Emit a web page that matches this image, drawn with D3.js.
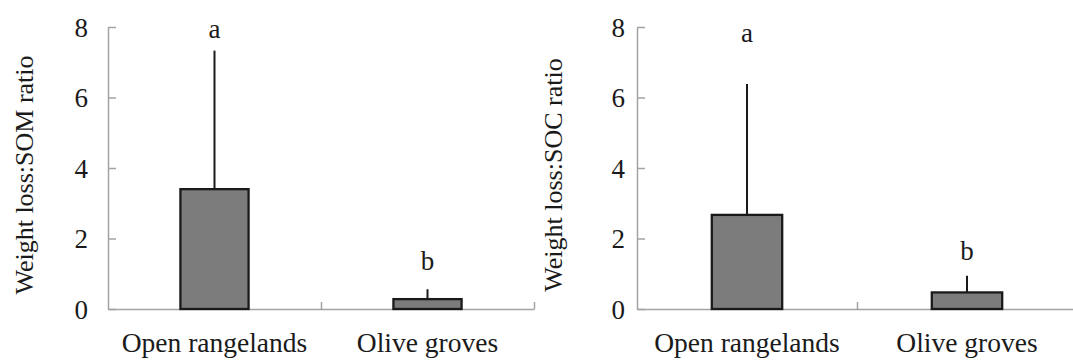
<!DOCTYPE html>
<html>
<head>
<meta charset="utf-8">
<script src="https://cdn.jsdelivr.net/npm/d3@7"></script>
<style>
  body { margin: 0; background: #fff; }
  svg text { font-family: "Liberation Serif", "Times New Roman", serif; fill: #1a1a1a; }
  .axis path, .axis line { stroke: #a3a3a3; stroke-width: 1.5; }
</style>
</head>
<body>
<svg id="chart" width="1073" height="360"></svg>
<script>
// categories and values
var categories = ["Open rangelands", "Olive groves"];
var yTicks = [0, 2, 4, 6, 8];

var somMean = [3.40, 0.28];
var somUpper = [7.33, 0.56];
var somLetters = ["a", "b"];
var somLetterAt = [7.69, 1.10];

var socMean = [2.67, 0.47];
var socUpper = [6.38, 0.94];
var socLetters = ["a", "b"];
var socLetterAt = [7.57, 1.39];

var svg = d3.select("#chart");

function drawPanel(opts) {
  var g = svg.append("g");

  var y = d3.scaleLinear().domain([0, 8]).range([309, 27]);
  var x = d3.scaleBand().domain(categories).range([opts.left, opts.right]).padding(0);

  // y axis, ticks pointing inward
  var yAxis = g.append("g")
    .attr("class", "axis")
    .attr("transform", "translate(" + opts.left + ",0)")
    .call(d3.axisLeft(y).tickValues(yTicks).tickSizeInner(-8).tickSizeOuter(0).tickPadding(opts.tickPad));
  yAxis.selectAll("text").style("font-size", "27px").attr("dy", "0.34em");

  // x axis line with ticks on the category boundaries
  var bounds = d3.scaleLinear().domain([0, categories.length]).range([opts.left, opts.right]);
  var xAxis = g.append("g")
    .attr("class", "axis")
    .attr("transform", "translate(0,309)")
    .call(d3.axisBottom(bounds).tickValues(d3.range(categories.length + 1)).tickSizeInner(-7).tickSizeOuter(0).tickFormat(""));
  xAxis.select(".tick").remove(); // no tick at the y axis corner

  g.selectAll(".cat")
    .data(categories)
    .enter().append("text")
    .attr("class", "cat")
    .attr("x", d => x(d) + x.bandwidth() / 2)
    .attr("y", 352)
    .attr("text-anchor", "middle")
    .style("font-size", "27.5px")
    .text(d => d);

  var barW = x.bandwidth() * 0.32;
  var rows = categories.map((c, i) => ({ c: c, m: opts.mean[i], u: opts.upper[i], l: opts.letters[i], la: opts.letterAt[i] }));

  // error bars (upper only)
  g.selectAll(".err")
    .data(rows)
    .enter().append("line")
    .attr("x1", d => x(d.c) + x.bandwidth() / 2)
    .attr("x2", d => x(d.c) + x.bandwidth() / 2)
    .attr("y1", d => y(d.m))
    .attr("y2", d => y(d.u))
    .attr("stroke", "#1a1a1a")
    .attr("stroke-width", 2);

  g.selectAll(".bar")
    .data(rows)
    .enter().append("rect")
    .attr("x", d => x(d.c) + (x.bandwidth() - barW) / 2)
    .attr("y", d => y(d.m))
    .attr("width", barW)
    .attr("height", d => y(0) - y(d.m))
    .attr("fill", "#7c7c7c")
    .attr("stroke", "#1a1a1a")
    .attr("stroke-width", 2.3);

  g.selectAll(".letter")
    .data(rows)
    .enter().append("text")
    .attr("x", d => x(d.c) + x.bandwidth() / 2)
    .attr("y", d => y(d.la))
    .attr("text-anchor", "middle")
    .style("font-size", "27px")
    .text(d => d.l);

  g.append("text")
    .attr("transform", "translate(" + (opts.left - 75) + ",175)rotate(-90)")
    .attr("text-anchor", "middle")
    .style("font-size", "26px")
    .text(opts.title);
}

drawPanel({ left: 108, right: 534, tickPad: 20, title: "Weight loss:SOM ratio",
  mean: somMean, upper: somUpper, letters: somLetters, letterAt: somLetterAt });
drawPanel({ left: 637, right: 1077, tickPad: 12, title: "Weight loss:SOC ratio",
  mean: socMean, upper: socUpper, letters: socLetters, letterAt: socLetterAt });
</script>
</body>
</html>
